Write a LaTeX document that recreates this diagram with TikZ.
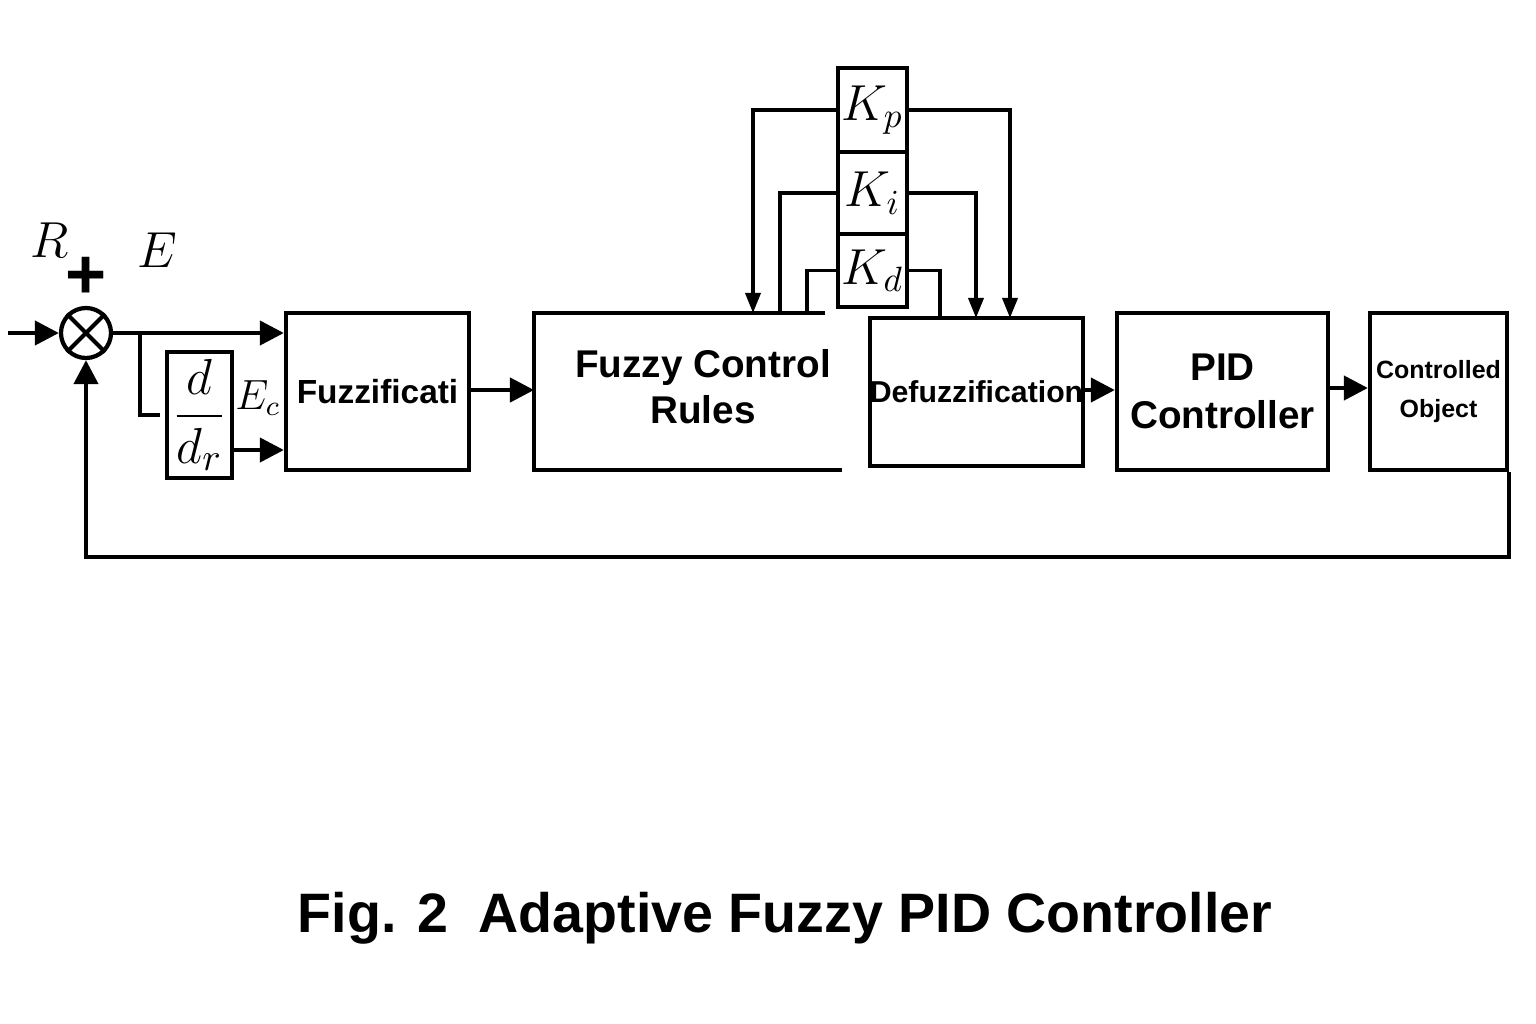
\documentclass[tikz,border=0pt]{standalone}
\usepackage{amsmath}
\usepackage{fontspec}
\setmainfont{Liberation Sans}
\usetikzlibrary{arrows.meta}

\begin{document}
\begin{tikzpicture}[
		x=0.01cm, y=-0.01cm,
		line width=1.2pt,
		blk/.style = {draw, inner sep=0pt, align=center, font=\bfseries},
		gain/.style = {draw, inner sep=0pt, minimum width=0.69cm, font=\fontsize{14}{14}\selectfont},
		arr/.style = {-{Triangle[length=0.24cm, width=0.24cm]}},
		thin arr/.style = {line width=1pt, -{Triangle[length=0.2cm, width=0.15cm]}},
		lnk/.style = {line width=1pt}
	]
	\useasboundingbox (0,0) rectangle (1536,1024);
	% Summing junction.
	\node[draw, circle, minimum size=0.5cm, inner sep=0pt] (sum) at (86,333) {};
	\draw (sum.north west) -- (sum.south east);
	\draw (sum.north east) -- (sum.south west);
	\coordinate (in) at (8,333);
	\node[font=\fontsize{15}{15}\selectfont] (r) at (50,240) {$R$};
	\node[font=\fontsize{20}{20}\selectfont\bfseries] (plus) at (86,278) {+};
	\node[font=\fontsize{15}{15}\selectfont] (e) at (157,250) {$E$};
	% Blocks.
	\node[draw, inner sep=0pt, minimum width=0.65cm, minimum height=1.26cm, font=\fontsize{15}{15}\selectfont] (ddr) at (199.5,415) {$\dfrac{d}{d_r}$};
	\node[font=\fontsize{12}{12}\selectfont] (ec) at (258,398) {$E_c$};
	\node[blk, minimum width=1.83cm, minimum height=1.57cm, font=\fontsize{9.5}{11}\selectfont\bfseries] (fuz) at (377.5,391.5) {Fuzzificati};
	\node[font=\fontsize{11}{13}\selectfont\bfseries, align=center] (fcr) at (703,387) {Fuzzy Control\\Rules};
	\node[blk, minimum width=2.03cm, minimum height=1.48cm, font=\fontsize{8.6}{10}\selectfont\bfseries] (defz) at (976.5,392) {Defuzzification};
	\node[blk, minimum width=2.11cm, minimum height=1.57cm, font=\fontsize{11}{13.5}\selectfont\bfseries] (pid) at (1222.5,391.5) {PID\\Controller};
	\node[blk, minimum width=1.37cm, minimum height=1.57cm, font=\fontsize{7.1}{11}\selectfont\bfseries] (obj) at (1438.5,391.5) {Controlled\\Object};
	% Gains.
	\node[gain, minimum height=0.84cm] (kp) at (872.5,110) {$K_p$};
	\node[gain, minimum height=0.82cm] (ki) at (872.5,193) {$K_i$};
	\node[gain, minimum height=0.73cm] (kd) at (872.5,270.5) {$K_d$};
	% Open rule block.
	\coordinate (fcrtl) at (534,313);
	\coordinate (fcrtr) at (825,313);
	\coordinate (fcrbl) at (534,470);
	\coordinate (fcrbr) at (842,470);
	\coordinate (fcrin) at (534,390);
	\draw (fcrtr) -- (fcrtl) -- (fcrbl) -- (fcrbr);
	% Connectors.
	\coordinate (br) at (140,333);
	\coordinate (brend) at (160,415);
	\coordinate (fb) at (86,557);
	\draw[arr] (in) -- (sum.west);
	\draw[arr] (sum.east) -- (fuz.west |- sum);
	\draw (br) |- (brend);
	\draw[arr] (ddr.east |- 0,450) -- (fuz.west |- 0,450);
	\draw[arr] (fuz.east |- fcrin) -- (fcrin);
	\draw[arr] (defz.east |- 0,390) -- (pid.west |- 0,390);
	\draw[arr] (pid.east |- 0,388) -- (obj.west |- 0,388);
	\draw[arr] (obj.south east) |- (fb) -- (sum.south);
	% Gain links.
	\draw[thin arr] (kp.west) -| (753,313);
	\draw[lnk] (ki.west) -| (780,313);
	\draw[lnk] (kd.west) -| (807,313);
	\draw[thin arr] (kp.east) -| (1010,318);
	\draw[thin arr] (ki.east) -| (976,318);
	\draw[lnk] (kd.east) -| (940,318);
	% Caption.
	\node[font=\fontsize{15.8}{18}\selectfont\bfseries] (cap) at (785,918) {Fig. 2\ \ Adaptive Fuzzy PID Controller};
\end{tikzpicture}
\end{document}
